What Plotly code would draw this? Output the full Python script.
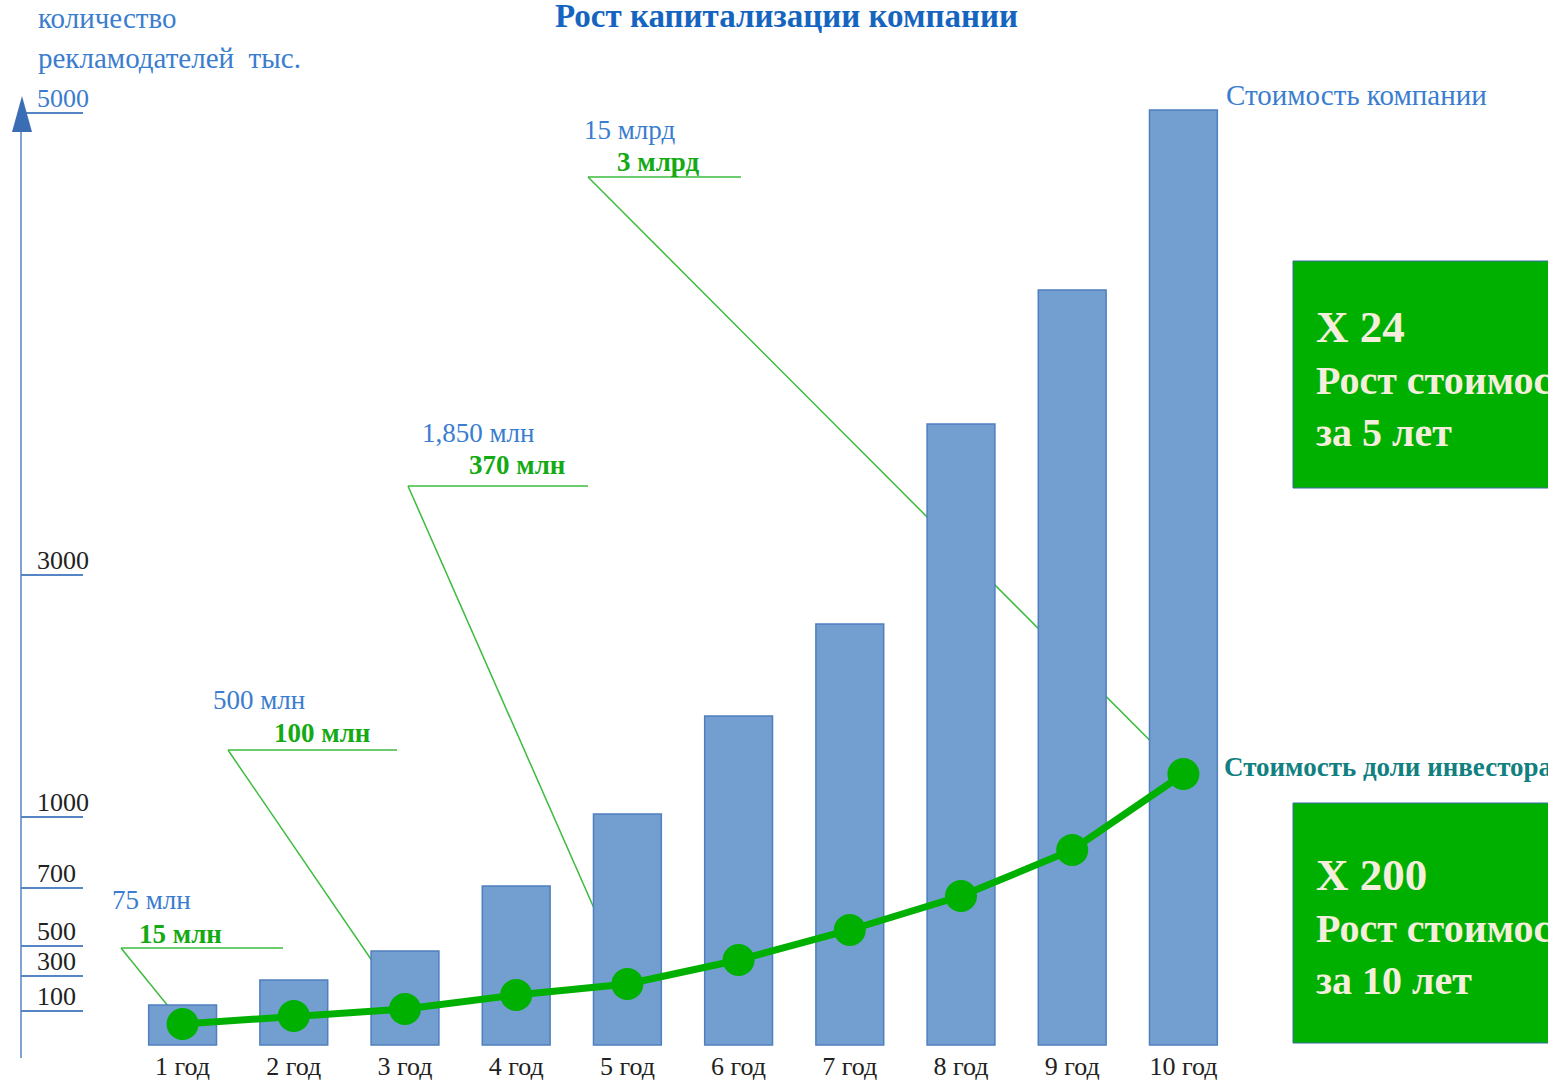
import plotly.graph_objects as go

# ---------------- data ----------------
years = ["1 год", "2 год", "3 год", "4 год", "5 год",
         "6 год", "7 год", "8 год", "9 год", "10 год"]
# company value bars (visual height units, chart has no consistent scale)
company_value = [40, 65, 94, 159, 231, 329, 421, 621, 755, 935]
# investor share line (same visual units)
investor_value = [21, 29, 36, 50, 61, 85, 115, 149, 195, 271]

# left axis (as drawn: non-linear labels)
ytick_pos = [34, 69, 99, 157, 228, 470, 932]
ytick_text = ["100", "300", "500", "700", "1000", "3000",
              '<span style="color:#3a7dcf">5000</span>']

# callouts: year index, company value label, investor value label
callout_idx = [0, 2, 4, 9]
callout_company = ["75 млн", "500 млн", "1,850 млн", "15 млрд"]
callout_investor = ["15 млн", "100 млн", "370 млн", "3 млрд"]

# ---------------- layout geometry ----------------
W, H = 1548, 1084
ML, MR, MT, MB = 21, 0, 60, 36
X0_PX, DX_PX = 182.6, 111.2      # pixel of first category and spacing
Y0_PX = 1045.0                    # pixel of the bar baseline

def px2x(px):
    return (px - X0_PX) / DX_PX

def py2y(py):
    return Y0_PX - py

x_range = [px2x(ML), px2x(W - MR)]
y_range = [py2y(H - MB), py2y(MT)]

def paper_x(px):
    return (px - ML) / (W - ML - MR)

def paper_y(py):
    return (H - MB - py) / (H - MT - MB)

SERIF = "Liberation Serif"
BLUE_TXT = "#3a7dcf"
GREEN_TXT = "#14aa14"
LEADER = "#3cbb3c"
AXIS_BLUE = "#5585c4"

fig = go.Figure()

fig.add_trace(go.Bar(
    x=years, y=company_value, width=0.61,
    marker=dict(color="#729fcf", line=dict(color="#4f7fbf", width=1.5)),
    showlegend=False, hoverinfo="skip",
))
fig.add_trace(go.Scatter(
    x=years, y=investor_value, mode="lines+markers",
    line=dict(color="#00b000", width=7),
    marker=dict(color="#00b000", size=32),
    showlegend=False, hoverinfo="skip",
))

shapes = []
annotations = []

# vertical axis line with arrow head
shapes.append(dict(type="line", xref="paper", yref="paper",
                   x0=paper_x(21), x1=paper_x(21), y0=paper_y(1058), y1=paper_y(120),
                   line=dict(color=AXIS_BLUE, width=1.5)))
shapes.append(dict(
    type="path", xref="paper", yref="paper",
    path=(f"M {paper_x(12)} {paper_y(132)} L {paper_x(32)} {paper_y(132)} "
          f"L {paper_x(22)} {paper_y(96)} Z"),
    fillcolor="#3b6db5", line=dict(width=0), layer="above",
))

# callouts: text positions (pixel layout) for each callout
callout_anchor_px = [(121, 948), (228, 750), (408, 486), (588, 177)]
callout_line_end_px = [283, 397, 588, 741]
callout_blue_px = [(110, 900), (211, 700), (420, 433), (582, 130)]
callout_green_px = [(137, 934), (272, 733), (467, 465), (615, 162)]

for k, i in enumerate(callout_idx):
    ax_px, ay_px = callout_anchor_px[k]
    shapes.append(dict(type="line", xref="x", yref="y",
                       x0=px2x(ax_px), y0=py2y(ay_px),
                       x1=px2x(callout_line_end_px[k]), y1=py2y(ay_px),
                       line=dict(color=LEADER, width=1.5)))
    shapes.append(dict(type="line", xref="x", yref="y",
                       x0=px2x(ax_px), y0=py2y(ay_px),
                       x1=i, y1=investor_value[i],
                       line=dict(color=LEADER, width=1.5), layer="below"))
    bx, by = callout_blue_px[k]
    annotations.append(dict(x=paper_x(bx), y=paper_y(by), xref="paper", yref="paper",
                            xanchor="left", yanchor="middle", showarrow=False,
                            text=callout_company[k],
                            font=dict(family=SERIF, size=27, color=BLUE_TXT)))
    gx, gy = callout_green_px[k]
    annotations.append(dict(x=paper_x(gx), y=paper_y(gy), xref="paper", yref="paper",
                            xanchor="left", yanchor="middle", showarrow=False,
                            text=f"<b>{callout_investor[k]}</b>",
                            font=dict(family=SERIF, size=27, color=GREEN_TXT)))

# green summary boxes (extend past the right edge as in the original)
box_px = [(1293, 261, 1600, 488), (1293, 803, 1600, 1043)]
box_head = ["X 24", "X 200"]
box_body = ["Рост стоимости<br>за 5 лет", "Рост стоимости<br>за 10 лет"]
box_text_px = [(1314, 378), (1314, 926)]
for (x0, y0, x1, y1), hd, bd, (tx, ty) in zip(box_px, box_head, box_body, box_text_px):
    shapes.append(dict(type="rect", xref="paper", yref="paper",
                       x0=paper_x(x0), x1=paper_x(x1),
                       y0=paper_y(y1), y1=paper_y(y0),
                       fillcolor="#00b000", line=dict(color="#3a6aa8", width=1)))
    annotations.append(dict(x=paper_x(tx), y=paper_y(ty), xref="paper", yref="paper",
                            xanchor="left", yanchor="middle", align="left",
                            showarrow=False,
                            text=f'<b><span style="font-size:45px">{hd}</span><br>{bd}</b>',
                            font=dict(family=SERIF, size=40, color="#f5eedc")))

# titles and labels
annotations += [
    dict(x=paper_x(786), y=paper_y(16), xref="paper", yref="paper",
         xanchor="center", yanchor="middle", showarrow=False,
         text="<b>Рост капитализации компании</b>",
         font=dict(family=SERIF, size=33, color="#1565c0")),
    dict(x=paper_x(36), y=paper_y(18), xref="paper", yref="paper",
         xanchor="left", yanchor="middle", showarrow=False,
         text="количество",
         font=dict(family=SERIF, size=29, color=BLUE_TXT)),
    dict(x=paper_x(36), y=paper_y(58), xref="paper", yref="paper",
         xanchor="left", yanchor="middle", showarrow=False,
         text="рекламодателей  тыс.",
         font=dict(family=SERIF, size=29, color=BLUE_TXT)),
    dict(x=paper_x(1224), y=paper_y(95), xref="paper", yref="paper",
         xanchor="left", yanchor="middle", showarrow=False,
         text="Стоимость компании",
         font=dict(family=SERIF, size=29, color=BLUE_TXT)),
    dict(x=paper_x(1222), y=paper_y(767), xref="paper", yref="paper",
         xanchor="left", yanchor="middle", showarrow=False,
         text="<b>Стоимость доли инвестора</b>",
         font=dict(family=SERIF, size=27, color="#128080")),
]

fig.update_layout(
    width=W, height=H,
    margin=dict(l=ML, r=MR, t=MT, b=MB, pad=0),
    paper_bgcolor="white", plot_bgcolor="white",
    shapes=shapes, annotations=annotations,
    showlegend=False,
    xaxis=dict(type="category", range=x_range, showgrid=False, zeroline=False,
               showline=False, ticks="",
               tickfont=dict(family=SERIF, size=26, color="#222222")),
    yaxis=dict(range=y_range, showgrid=False, zeroline=False,
               showline=False,
               tickmode="array", tickvals=ytick_pos, ticktext=ytick_text,
               ticks="inside", ticklen=62, tickwidth=1.5, tickcolor=AXIS_BLUE,
               ticklabelposition="inside top", ticklabelstandoff=13,
               ticklabelshift=4,
               tickfont=dict(family=SERIF, size=26, color="#222222")),
)

fig.write_html("out.html",
               config={"displayModeBar": False},
               post_script="document.body.style.margin='0';"
                           "document.body.style.overflow='hidden';")
